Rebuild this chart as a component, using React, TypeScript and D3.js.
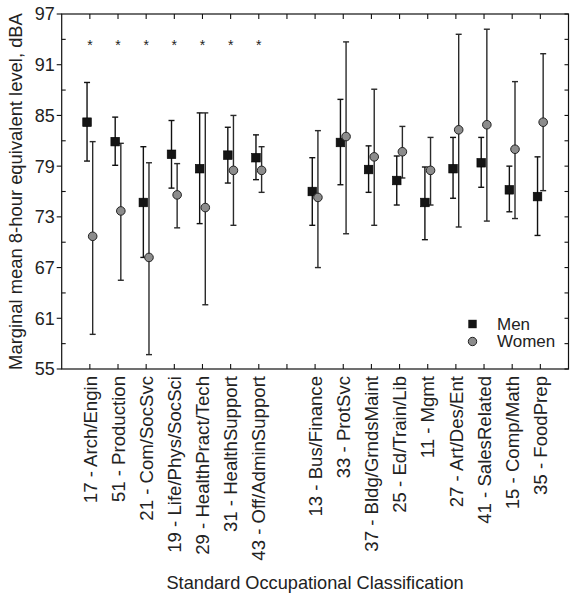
import React from "react";
import * as d3 from "d3";

const categories = [
  "17 - Arch/Engin",
  "51 - Production",
  "21 - Com/SocSvc",
  "19 - Life/Phys/SocSci",
  "29 - HealthPract/Tech",
  "31 - HealthSupport",
  "43 - Off/AdminSupport",
  "13 - Bus/Finance",
  "33 - ProtSvc",
  "37 - Bldg/GrndsMaint",
  "25 - Ed/Train/Lib",
  "11 - Mgmt",
  "27 - Art/Des/Ent",
  "41 - SalesRelated",
  "15 - Comp/Math",
  "35 - FoodPrep",
];
const group = [1, 1, 1, 1, 1, 1, 1, 2, 2, 2, 2, 2, 2, 2, 2, 2];
const significant = [true, true, true, true, true, true, true, false, false, false, false, false, false, false, false, false];

const menMean = [84.2, 81.9, 74.7, 80.4, 78.7, 80.3, 80.0, 76.0, 81.8, 78.6, 77.3, 74.7, 78.7, 79.4, 76.2, 75.4];
const menLow = [79.6, 79.1, 68.2, 76.4, 72.2, 77.0, 77.4, 72.0, 76.8, 75.9, 74.4, 70.3, 75.2, 76.5, 73.6, 70.8];
const menHigh = [88.9, 84.8, 81.3, 84.4, 85.3, 83.6, 82.7, 80.0, 86.9, 81.4, 80.2, 78.9, 82.4, 82.4, 79.0, 80.1];

const womenMean = [70.7, 73.7, 68.2, 75.6, 74.1, 78.5, 78.5, 75.3, 82.5, 80.1, 80.7, 78.5, 83.3, 83.9, 81.0, 84.2];
const womenLow = [59.1, 65.5, 56.7, 71.7, 62.6, 72.0, 75.9, 67.0, 71.0, 72.0, 77.6, 74.4, 71.8, 72.5, 72.8, 76.1];
const womenHigh = [81.9, 81.7, 79.4, 79.3, 85.3, 85.0, 81.3, 83.2, 93.7, 88.1, 83.7, 82.4, 94.6, 95.2, 89.0, 92.3];

const yMajorTicks = [55, 61, 67, 73, 79, 85, 91, 97];
const seriesNames = ["Men", "Women"];
const yTitle = "Marginal mean 8-hour equivalent level, dBA";
const xTitle = "Standard Occupational Classification";
const starLevel = 93.7;

const W = 576;
const H = 600;
const margin = { left: 61.7, right: 7.5, top: 14, bottom: 231 };
const FONT = "'Liberation Sans', Arial, Helvetica, sans-serif";

export default function App() {
  const positions = categories.map((_, i) => i + 1 + (group[i] === 2 ? 1 : 0));
  const xMax = d3.max(positions)! + 1;
  const x = d3.scaleLinear().domain([0, xMax]).range([margin.left, W - margin.right]);
  const y = d3.scaleLinear().domain([55, 97]).range([H - margin.bottom, margin.top]);
  const x0 = x.range()[0];
  const x1 = x.range()[1];
  const y0 = y.range()[0];
  const y1 = y.range()[1];
  const xTicks = d3.range(1, xMax);
  const yAllTicks = d3.range(55, 97.01, 3);
  const off = 0.1;
  const cap = 3;

  const errBar = (cx: number, lo: number, hi: number, key: string, color: string) => (
    <g key={key} stroke={color} strokeWidth={1.4}>
      <line x1={cx} x2={cx} y1={y(lo)} y2={y(hi)} />
      <line x1={cx - cap} x2={cx + cap} y1={y(lo)} y2={y(lo)} />
      <line x1={cx - cap} x2={cx + cap} y1={y(hi)} y2={y(hi)} />
    </g>
  );

  return (
    <svg width={W} height={H} style={{ position: "absolute", left: 0, top: 0, background: "#fff" }} fontFamily={FONT}>
      {/* frame */}
      <rect x={x0} y={y1} width={x1 - x0} height={y0 - y1} fill="none" stroke="#111" strokeWidth={1.2} />
      {/* x ticks top & bottom (inward) */}
      {xTicks.map((t) => (
        <g key={"xt" + t} stroke="#111" strokeWidth={1.1}>
          <line x1={x(t)} x2={x(t)} y1={y0} y2={y0 - 5} />
          <line x1={x(t)} x2={x(t)} y1={y1} y2={y1 + 5} />
        </g>
      ))}
      {/* y ticks */}
      {yAllTicks.map((t) => {
        const major = yMajorTicks.includes(Math.round(t));
        return (
          <g key={"yt" + t} stroke="#111" strokeWidth={1.1}>
            {major ? (
              <line x1={x0 - 5} x2={x0} y1={y(t)} y2={y(t)} />
            ) : (
              <line x1={x0} x2={x0 + 4} y1={y(t)} y2={y(t)} />
            )}
            <line x1={x1 - 4} x2={x1} y1={y(t)} y2={y(t)} />
          </g>
        );
      })}
      {yMajorTicks.map((t) => (
        <text key={"yl" + t} x={x0 - 7} y={y(t)} dy="0.36em" textAnchor="end" fontSize={18} fill="#222">
          {t}
        </text>
      ))}
      {/* category labels */}
      {categories.map((c, i) => (
        <text
          key={"cl" + i}
          transform={`translate(${x(positions[i])},${y0 + 7}) rotate(-90)`}
          dy="0.36em"
          textAnchor="end"
          fontSize={18.6}
          fill="#222"
        >
          {c}
        </text>
      ))}
      {/* axis titles */}
      <text x={(x0 + x1) / 2} y={589} textAnchor="middle" fontSize={18.2} fill="#222">
        {xTitle}
      </text>
      <text transform={`translate(22,${(y0 + y1) / 2}) rotate(-90)`} textAnchor="middle" fontSize={18.4} fill="#222">
        {yTitle}
      </text>
      {/* significance stars */}
      {categories.map((_, i) =>
        significant[i] ? (
          <text key={"st" + i} x={x(positions[i])} y={y(starLevel) + 8} textAnchor="middle" fontSize={14} fill="#222">
            *
          </text>
        ) : null
      )}
      {/* error bars */}
      {categories.map((_, i) => errBar(x(positions[i] - off), menLow[i], menHigh[i], "me" + i, "#111"))}
      {categories.map((_, i) => errBar(x(positions[i] + off), womenLow[i], womenHigh[i], "we" + i, "#2a2a2a"))}
      {/* markers */}
      {categories.map((_, i) => (
        <rect
          key={"ms" + i}
          x={x(positions[i] - off) - 4.3}
          y={y(menMean[i]) - 4.3}
          width={8.6}
          height={8.6}
          fill="#141414"
          stroke="#000"
          strokeWidth={0.6}
        />
      ))}
      {categories.map((_, i) => (
        <circle
          key={"wc" + i}
          cx={x(positions[i] + off)}
          cy={y(womenMean[i])}
          r={4.3}
          fill="#8c8c8c"
          stroke="#222"
          strokeWidth={1}
        />
      ))}
      {/* legend */}
      <rect x={472.5 - 4.2} y={324 - 4.2} width={8.4} height={8.4} fill="#141414" />
      <circle cx={472.5} cy={341.5} r={4.2} fill="#8c8c8c" stroke="#222" strokeWidth={1} />
      <text x={497} y={329.5} fontSize={17} fill="#222">
        {seriesNames[0]}
      </text>
      <text x={497} y={347} fontSize={17} fill="#222">
        {seriesNames[1]}
      </text>
    </svg>
  );
}
